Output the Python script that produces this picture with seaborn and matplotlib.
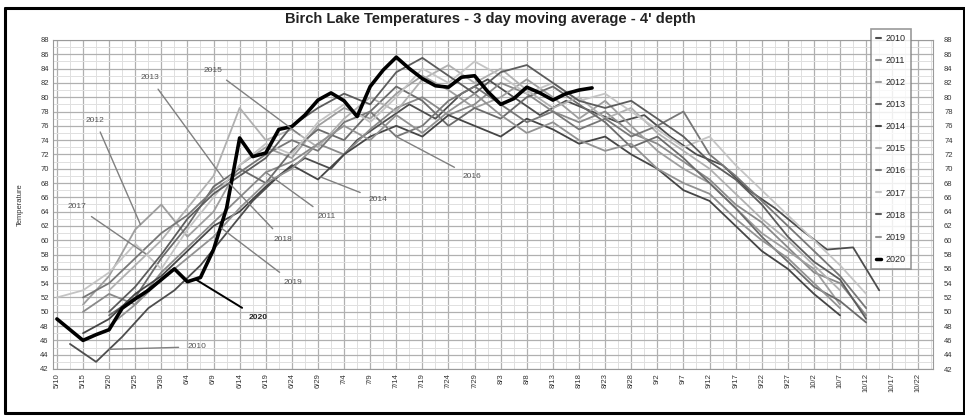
import numpy as np
import pandas as pd
import matplotlib
matplotlib.use("Agg")
import matplotlib.pyplot as plt
import matplotlib.dates as mdates
from matplotlib.ticker import FixedLocator, MultipleLocator
from matplotlib.lines import Line2D
import seaborn as sns

sns.set_theme(style="white")
plt.rcParams["font.family"] = ["Liberation Sans", "DejaVu Sans"]

TITLE = "Birch Lake Temperatures - 3 day moving average - 4' depth"
Y_LABEL = "Temperature"
FIRST_DAY = "2020-05-10"
TICK_DAYS = 5
N_TICKS = 34
Y_TICKS = list(range(42, 90, 2))
YEARS = ["2010", "2011", "2012", "2013", "2014", "2015", "2016", "2017", "2018", "2019", "2020"]

# start position (in tick units of 5 days) and sampling step (days) for each year
START_TICK = {"2010": 0.5, "2011": 1, "2012": 1, "2013": 2, "2014": 1, "2015": 2,
              "2016": 1, "2017": 0, "2018": 2, "2019": 2, "2020": 0}
STEP_DAYS = {"2010": 5, "2011": 5, "2012": 5, "2013": 5, "2014": 5, "2015": 5,
             "2016": 5, "2017": 5, "2018": 5, "2019": 5, "2020": 2.5}

T2010 = [45.5, 43.0, 46.5, 50.5, 53.0, 56.5, 61.0, 65.5, 69.0, 71.5, 70.0, 74.0, 76.5, 79.0, 77.0, 80.5,
         82.5, 80.0, 77.5, 79.5, 78.0, 76.5, 77.5, 74.5, 72.0, 70.5, 67.0, 64.5, 61.5, 58.7, 59.0, 53.0]
T2011 = [50.0, 52.5, 51.0, 55.5, 59.0, 62.5, 66.0, 69.5, 71.0, 73.5, 72.0, 75.5, 78.5, 80.0, 77.5, 79.0,
         82.0, 80.5, 78.0, 76.5, 78.0, 75.0, 73.5, 71.0, 68.5, 65.0, 62.5, 59.0, 55.5, 54.0, 49.5]
T2012 = [51.0, 55.0, 61.5, 65.0, 60.5, 64.0, 70.5, 73.0, 71.5, 76.0, 78.5, 77.0, 80.5, 83.0, 81.0, 78.5,
         80.0, 82.5, 80.0, 77.0, 79.5, 76.0, 72.5, 70.0, 68.0, 64.5, 61.0, 58.5, 56.0, 51.0]
T2013 = [49.5, 52.0, 57.5, 62.0, 67.5, 70.0, 68.0, 72.5, 75.5, 74.0, 78.0, 81.5, 79.5, 76.0, 78.5, 77.0,
         80.0, 81.5, 79.0, 76.5, 73.0, 74.5, 71.5, 68.0, 64.5, 60.5, 57.0, 53.5, 51.5, 48.5]
T2014 = [47.0, 49.0, 52.5, 55.0, 58.5, 62.0, 64.0, 67.5, 70.5, 68.5, 72.0, 74.5, 76.0, 74.5, 77.5, 76.0,
         74.5, 77.0, 75.5, 73.5, 74.5, 72.0, 70.0, 67.0, 65.5, 62.0, 58.5, 56.0, 52.5, 49.5]
T2015 = [53.0, 56.5, 60.0, 64.5, 69.0, 78.5, 74.0, 75.5, 73.0, 77.0, 80.0, 78.0, 82.5, 84.5, 82.0, 84.0,
         81.0, 78.5, 80.0, 77.0, 78.5, 75.0, 72.5, 70.0, 66.5, 63.0, 60.0, 56.5, 53.0]
T2016 = [52.0, 54.0, 57.5, 61.0, 63.5, 67.0, 69.5, 72.0, 74.0, 72.5, 76.5, 78.0, 74.5, 76.0, 79.5, 81.5,
         79.0, 76.5, 78.0, 75.5, 77.0, 74.5, 76.0, 78.0, 72.0, 69.0, 65.5, 62.0, 58.5, 55.0, 50.5]
T2017 = [52.0, 53.0, 55.5, 59.5, 56.0, 61.5, 66.0, 70.5, 73.5, 72.0, 76.5, 79.0, 76.5, 80.0, 84.0, 82.0,
         85.0, 83.0, 80.5, 82.0, 79.5, 80.5, 78.0, 75.5, 73.0, 74.5, 70.5, 67.0, 63.5, 60.0, 56.5, 52.5]
T2018 = [50.0, 53.5, 58.0, 63.0, 66.5, 69.0, 71.5, 76.0, 78.5, 80.5, 79.0, 83.5, 85.5, 83.0, 80.5, 83.5,
         84.5, 82.0, 79.5, 78.5, 79.5, 77.0, 74.5, 71.0, 68.5, 65.0, 60.5, 57.0, 54.5, 49.0]
T2019 = [48.0, 51.0, 54.5, 57.5, 60.5, 64.5, 68.0, 70.0, 73.5, 76.0, 74.0, 77.5, 75.0, 78.0, 80.5, 77.5,
         75.0, 76.5, 74.0, 72.5, 73.5, 70.0, 68.0, 66.5, 63.0, 60.0, 57.5, 54.0, 50.5]
T2020 = [49.0, 47.5, 46.0, 46.8, 47.5, 50.5, 51.8, 53.0, 54.5, 56.0, 54.2, 54.8, 58.7, 64.5, 74.3, 71.7,
         72.2, 75.5, 75.9, 77.5, 79.6, 80.6, 79.5, 77.3, 81.5, 83.8, 85.6, 84.0, 82.6, 81.6, 81.4, 82.8,
         83.0, 80.8, 79.0, 79.8, 81.4, 80.6, 79.6, 80.5, 81.0, 81.3]

SERIES = {"2010": T2010, "2011": T2011, "2012": T2012, "2013": T2013, "2014": T2014, "2015": T2015,
          "2016": T2016, "2017": T2017, "2018": T2018, "2019": T2019, "2020": T2020}

# callout labels: year -> (text tick, text temp, target tick on the curve)
CALLOUTS = {"2012": (1.46, 76.8, 3.2), "2013": (3.56, 82.7, 6.4), "2015": (5.98, 83.8, 9.3),
            "2017": (0.77, 64.7, 3.4), "2018": (8.66, 60.1, 6.6), "2019": (9.04, 54.1, 6.3),
            "2020": (7.7, 49.2, 5.3), "2010": (5.36, 45.1, 2.0), "2011": (10.34, 63.3, 8.0),
            "2014": (12.3, 65.7, 10.1), "2016": (15.9, 68.9, 13.0)}

COLORS = {"2010": "#4d4d4d", "2011": "#8a8a8a", "2012": "#9e9e9e", "2013": "#6b6b6b",
          "2014": "#454545", "2015": "#b0b0b0", "2016": "#777777", "2017": "#c4c4c4",
          "2018": "#5c5c5c", "2019": "#929292", "2020": "#000000"}

first = pd.Timestamp(FIRST_DAY)
rows = []
for yr in YEARS:
    for i, v in enumerate(SERIES[yr]):
        d = first + pd.Timedelta(days=START_TICK[yr] * TICK_DAYS + i * STEP_DAYS[yr])
        rows.append({"year": yr, "date": d, "temp": v})
df = pd.DataFrame(rows)

W, H = 965, 416
fig = plt.figure(figsize=(W / 100, H / 100), dpi=100)
fig.patch.set_facecolor("white")
ax = fig.add_axes([53 / W, 1 - 369 / H, (933 - 53) / W, (369 - 40) / H])

for yr in YEARS:
    sub = df[df["year"] == yr]
    sns.lineplot(data=sub, x="date", y="temp", ax=ax, color=COLORS[yr],
                 lw=2.6 if yr == "2020" else 1.3, estimator=None, sort=False,
                 legend=False, zorder=5 if yr == "2020" else 3)

tick_dates = [first + pd.Timedelta(days=TICK_DAYS * k) for k in range(N_TICKS)]
tick_nums = [mdates.date2num(d) for d in tick_dates]
minor_nums = [mdates.date2num(first + pd.Timedelta(days=TICK_DAYS * k + 2.5)) for k in range(-1, N_TICKS)]
ax.set_xlim(mdates.date2num(first) - 0.75, mdates.date2num(first) + 167.8)
ax.set_ylim(42, 88)
ax.xaxis.set_major_locator(FixedLocator(tick_nums))
ax.set_xticklabels([f"{d.month}/{d.day}" for d in tick_dates], rotation=90, fontsize=5.5, color="#333333")
ax.xaxis.set_minor_locator(FixedLocator(minor_nums))
ax.set_yticks(Y_TICKS)
ax.set_yticklabels([str(v) for v in Y_TICKS], fontsize=5.5, color="#333333")
ax.yaxis.set_minor_locator(MultipleLocator(1))
ax.grid(which="major", color="#b0b0b0", lw=0.9)
ax.grid(which="minor", color="#e0e0e0", lw=0.7)
ax.set_axisbelow(True)
ax.tick_params(axis="both", which="both", length=0, pad=3)
ax.set_xlabel("")
ax.set_ylabel(Y_LABEL, fontsize=5.5, color="#333333", labelpad=12)
for s in ax.spines.values():
    s.set_color("#9a9a9a")
    s.set_linewidth(0.8)

ax2 = ax.twinx()
ax2.set_ylim(42, 88)
ax2.set_yticks(Y_TICKS)
ax2.set_yticklabels([str(v) for v in Y_TICKS], fontsize=5.5, color="#333333")
ax2.tick_params(axis="y", length=0, pad=8)
ax2.grid(False)
for s in ax2.spines.values():
    s.set_visible(False)

# callouts
for yr, (tx, ty, target) in CALLOUTS.items():
    sub = df[df["year"] == yr]
    xs = mdates.date2num(sub["date"].to_numpy())
    tnum = mdates.date2num(first) + target * TICK_DAYS
    tval = float(np.interp(tnum, xs, sub["temp"].to_numpy()))
    txt_x = mdates.date2num(first) + tx * TICK_DAYS
    lc = "#000000" if yr == "2020" else "#808080"
    ax.annotate(yr, xy=(tnum, tval), xytext=(txt_x, ty), fontsize=6,
                color="#222222" if yr == "2020" else "#555555",
                fontweight="bold" if yr == "2020" else "normal",
                ha="center", va="center", zorder=6,
                arrowprops=dict(arrowstyle="-", color=lc, lw=1.4 if yr == "2020" else 1.0,
                                shrinkA=4, shrinkB=0))

handles = [Line2D([], [], color=COLORS[yr], lw=2.5 if yr == "2020" else 1.5) for yr in YEARS]
leg = ax.legend(handles, YEARS, loc="upper left", bbox_to_anchor=((866 - 53) / 880, 1 + 16 / 329),
                fontsize=6.5, labelspacing=1.45, handlelength=0.6, handletextpad=0.5,
                borderpad=0.6, frameon=True, fancybox=False, shadow=False)
leg.get_frame().set_edgecolor("#808080")
leg.get_frame().set_linewidth(1.2)
leg.get_frame().set_facecolor("white")
leg.set_zorder(10)

fig.text(490 / W, 1 - 19 / H, TITLE, ha="center", va="center", fontsize=10.5, fontweight="bold",
         color="#222222")

# outer frame
for (x0, y0, x1, y1) in [(5, 8, 964, 8), (5, 8, 5, 413), (5, 413, 964, 413), (964, 8, 964, 413)]:
    fig.add_artist(Line2D([x0 / W, x1 / W], [1 - y0 / H, 1 - y1 / H], color="black", lw=2.2,
                          transform=fig.transFigure))

fig.savefig("out.png", dpi=100, facecolor="white")
